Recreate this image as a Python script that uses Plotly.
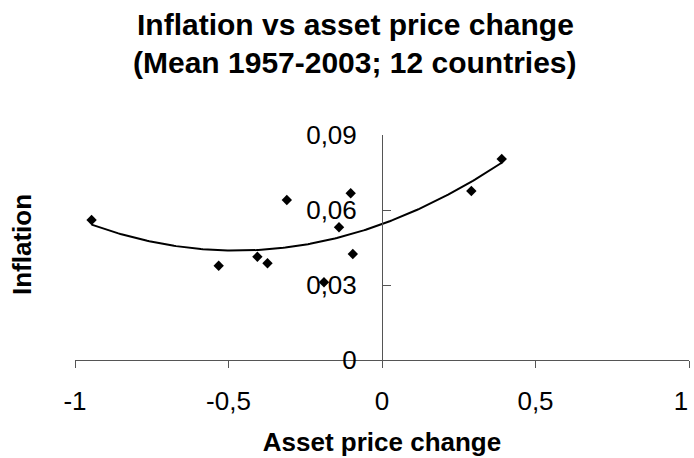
import numpy as np
import plotly.graph_objects as go

# Data
asset_price_change = [-0.946, -0.532, -0.406, -0.373, -0.310, -0.189, -0.140, -0.102, -0.095, 0.291, 0.390]
inflation = [0.0560, 0.0377, 0.0413, 0.0387, 0.0640, 0.0311, 0.0531, 0.0667, 0.0424, 0.0676, 0.0804]

x_ticks = [-1, -0.5, 0, 0.5, 1]
x_tick_labels = ["-1", "-0,5", "0", "0,5", "1"]
y_ticks = [0, 0.03, 0.06, 0.09]
y_tick_labels = ["0", "0,03", "0,06", "0,09"]

title_lines = ["Inflation vs asset price change", "(Mean 1957-2003; 12 countries)"]

# Polynomial (order 2) trendline, as in the spreadsheet chart
coef = np.polyfit(asset_price_change, inflation, 2)
xt = np.linspace(min(asset_price_change), max(asset_price_change), 200)
yt = np.polyval(coef, xt)

FONT = "Arial, Liberation Sans, sans-serif"

fig = go.Figure()
fig.add_trace(go.Scatter(x=xt, y=yt, mode="lines",
                         line=dict(color="black", width=2), hoverinfo="skip"))
fig.add_trace(go.Scatter(x=asset_price_change, y=inflation, mode="markers",
                         marker=dict(symbol="diamond", size=8, color="black")))
# invisible helper trace so the overlay axis (last tick label) is drawn
fig.add_trace(go.Scatter(x=[x_ticks[-1]], y=[y_ticks[0]], xaxis="x2", mode="markers",
                         marker=dict(opacity=0), hoverinfo="skip"))

W, H = 694, 458
ml, mr, mt, mb = 75, 5, 135, 98
PW, PH = W - ml - mr, H - mt - mb


def px_x(px):
    return (px - ml) / PW


def px_y(py):
    return (H - mb - py) / PH


annotations = [dict(
    text="<b>Inflation</b>", textangle=-90,
    xref="paper", yref="paper", x=px_x(22), y=px_y(245),
    xanchor="center", yanchor="middle", showarrow=False,
    font=dict(size=26, family=FONT, color="black"),
)]
for line, cy in zip(title_lines, [25, 63]):
    annotations.append(dict(
        text="<b>" + line + "</b>",
        xref="paper", yref="paper", x=px_x(355), y=px_y(cy),
        xanchor="center", yanchor="middle", showarrow=False,
        font=dict(size=30, family=FONT, color="black"),
    ))

fig.update_layout(
    width=W, height=H,
    margin=dict(l=ml, r=mr, t=mt, b=mb, autoexpand=False),
    plot_bgcolor="white", paper_bgcolor="white",
    showlegend=False,
    font=dict(family=FONT, color="black"),
    xaxis=dict(
        range=[-1, 1], tickvals=x_ticks,
        ticktext=x_tick_labels[:-1] + [""],
        showgrid=False, zeroline=False, automargin=False,
        showline=True, linecolor="#555", linewidth=1,
        ticks="outside", ticklen=7, tickcolor="#555",
        tickfont=dict(size=26), ticklabelstandoff=11,
        ticklabeloverflow="allow",
        title=dict(text="<b>Asset price change</b>", font=dict(size=26), standoff=17),
    ),
    xaxis2=dict(
        range=[-1, 1], overlaying="x", side="bottom", anchor="y",
        tickvals=x_ticks[-1:], ticktext=x_tick_labels[-1:],
        showgrid=False, zeroline=False, automargin=False, showline=False,
        ticks="outside", ticklen=7, tickcolor="rgba(0,0,0,0)",
        tickfont=dict(size=26), ticklabelstandoff=11, ticklabelshift=-8,
        ticklabeloverflow="allow",
    ),
    yaxis=dict(
        range=[0, 0.09], tickvals=y_ticks, ticktext=y_tick_labels,
        showgrid=False, zeroline=False, automargin=False,
        showline=True, linecolor="#555", linewidth=1,
        ticks="inside", ticklen=8, tickcolor="#555",
        tickfont=dict(size=26), ticklabelstandoff=20,
        ticklabeloverflow="allow",
        anchor="free", position=0.5,
        title=dict(text=""),
    ),
    annotations=annotations,
)

fig.write_html("out.html", config={"displayModeBar": False},
               post_script="document.body.style.margin='0';")
